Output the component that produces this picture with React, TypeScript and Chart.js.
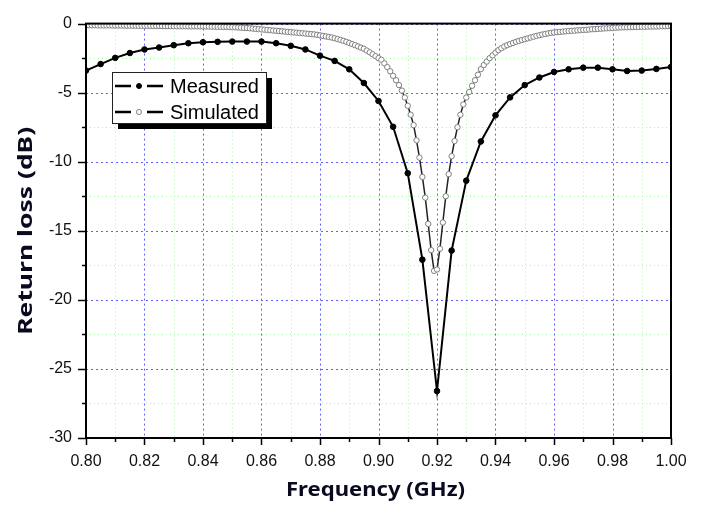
import React, { useEffect, useRef } from 'react';
import { Chart, registerables } from 'chart.js';

Chart.register(...registerables);

// ---- data ----
const FREQ_START = 0.8;
const MEASURED_STEP = 0.005;
const SIM_STEP = 0.001;

const seriesNames = ['Measured', 'Simulated'];

const measured = [
  -3.4, -2.93, -2.48, -2.13, -1.87, -1.73, -1.56, -1.42, -1.35, -1.32,
  -1.30, -1.30, -1.30, -1.42, -1.61, -1.87, -2.32, -2.70, -3.31, -4.30,
  -5.60, -7.47, -10.83, -17.09, -26.6, -16.43, -11.37, -8.53, -6.64, -5.34,
  -4.45, -3.90, -3.50, -3.31, -3.19, -3.19, -3.31, -3.43, -3.40, -3.28,
  -3.14,
];

const simulated = [
  -0.12, -0.12, -0.12, -0.12, -0.13, -0.13, -0.13, -0.13, -0.13, -0.14,
  -0.14, -0.14, -0.14, -0.14, -0.15, -0.15, -0.15, -0.15, -0.16, -0.16,
  -0.16, -0.16, -0.17, -0.17, -0.17, -0.17, -0.18, -0.18, -0.18, -0.18,
  -0.19, -0.19, -0.19, -0.19, -0.19, -0.20, -0.20, -0.20, -0.20, -0.20,
  -0.20, -0.21, -0.21, -0.22, -0.22, -0.23, -0.23, -0.24, -0.24, -0.25,
  -0.26, -0.27, -0.28, -0.29, -0.31, -0.32, -0.34, -0.36, -0.38, -0.40,
  -0.42, -0.44, -0.46, -0.48, -0.50, -0.52, -0.54, -0.56, -0.58, -0.60,
  -0.62, -0.64, -0.66, -0.68, -0.70, -0.72, -0.74, -0.76, -0.78, -0.81,
  -0.85, -0.89, -0.93, -0.97, -1.01, -1.06, -1.12, -1.18, -1.25, -1.32,
  -1.40, -1.48, -1.56, -1.65, -1.74,
  -1.82, -1.95, -2.08, -2.22, -2.36, -2.50, -2.62, -2.88, -3.15, -3.45,
  -3.78, -4.10, -4.45, -4.85, -5.35, -5.95, -6.60, -7.35, -8.45, -9.70,
  -11.1, -12.6, -14.5, -16.4, -17.9, -17.8, -16.3, -14.4, -12.5, -10.9,
  -9.6, -8.5,
  -7.5, -6.6, -5.85, -5.35, -4.95, -4.5, -4.1, -3.7, -3.3, -3.0,
  -2.75, -2.5, -2.3, -2.1, -1.92, -1.78, -1.66, -1.56, -1.48, -1.40,
  -1.32, -1.25, -1.19, -1.13, -1.07, -1.01, -0.95, -0.89, -0.84, -0.79,
  -0.75, -0.71, -0.67, -0.64, -0.62, -0.60, -0.58, -0.56, -0.54, -0.52,
  -0.51, -0.49, -0.48, -0.46, -0.45, -0.43, -0.41, -0.40, -0.38, -0.37,
  -0.35, -0.34, -0.33, -0.32, -0.30, -0.29, -0.28, -0.27, -0.27, -0.26,
  -0.25, -0.24, -0.24, -0.23, -0.23, -0.22, -0.22, -0.21, -0.21, -0.20,
  -0.19, -0.19, -0.18, -0.17,
];

const xTickLabels = ['0.80', '0.82', '0.84', '0.86', '0.88', '0.90', '0.92', '0.94', '0.96', '0.98', '1.00'];
const yTickLabels = ['0', '-5', '-10', '-15', '-20', '-25', '-30'];
const xTitle = 'Frequency (GHz)';
const yTitle = 'Return loss (dB)';

// ---- styles ----
const MAJOR_GRID = '#6060ff';
const MINOR_GRID = '#b0f0b0';
const TICK_FONT = '"Liberation Sans", Arial, sans-serif';
const TITLE_FONT = '"Noto Sans", "Open Sans", sans-serif';

const isMajorX = (v: number) => xTickLabels.includes(v.toFixed(2));
const isMajorY = (v: number) => yTickLabels.includes(String(Math.round(v * 10) / 10));

const gridPlugin = {
  id: 'customGrid',
  beforeDatasetsDraw(chart: any) {
    const { ctx, chartArea } = chart;
    const { left, right, top, bottom } = chartArea;
    const xs = chart.scales.x;
    const ys = chart.scales.y;
    ctx.save();
    ctx.lineWidth = 1;
    // minor first, major on top
    [false, true].forEach((major) => {
      ctx.strokeStyle = major ? MAJOR_GRID : MINOR_GRID;
      ctx.setLineDash(major ? [2, 3] : [1, 3]);
      ctx.beginPath();
      xs.ticks.forEach((t: any) => {
        if (isMajorX(t.value) !== major) return;
        const px = Math.round(xs.getPixelForValue(t.value)) + 0.5;
        ctx.moveTo(px, top);
        ctx.lineTo(px, bottom);
      });
      ys.ticks.forEach((t: any) => {
        if (isMajorY(t.value) !== major) return;
        const py = Math.round(ys.getPixelForValue(t.value)) + 0.5;
        ctx.moveTo(left, py);
        ctx.lineTo(right, py);
      });
      ctx.stroke();
    });
    ctx.restore();
  },
};

const decorPlugin = {
  id: 'decor',
  afterDraw(chart: any) {
    const { ctx, chartArea } = chart;
    const { left, right, top, bottom } = chartArea;
    const xs = chart.scales.x;
    const ys = chart.scales.y;
    ctx.save();
    // frame
    ctx.strokeStyle = '#000';
    ctx.lineWidth = 2;
    ctx.setLineDash([]);
    ctx.strokeRect(left, top, right - left, bottom - top);
    // tick marks
    ctx.lineWidth = 1.5;
    ctx.beginPath();
    xs.ticks.forEach((t: any) => {
      const px = Math.round(xs.getPixelForValue(t.value)) + 0.5;
      const len = isMajorX(t.value) ? 7 : 4;
      ctx.moveTo(px, bottom);
      ctx.lineTo(px, bottom + len);
    });
    ys.ticks.forEach((t: any) => {
      const py = Math.round(ys.getPixelForValue(t.value)) + 0.5;
      const len = isMajorY(t.value) ? 8 : 4;
      ctx.moveTo(left, py);
      ctx.lineTo(left - len, py);
    });
    ctx.stroke();

    // axis titles
    ctx.fillStyle = '#0a0a1e';
    ctx.textAlign = 'center';
    ctx.textBaseline = 'middle';
    ctx.save();
    ctx.font = `bold 20px ${TITLE_FONT}`;
    const wx = ctx.measureText(xTitle).width;
    ctx.translate((left + right) / 2 - 3, 490);
    ctx.scale(179 / wx, 1);
    ctx.fillText(xTitle, 0, 0);
    ctx.restore();
    ctx.save();
    ctx.translate(26, (top + bottom) / 2);
    ctx.rotate(-Math.PI / 2);
    ctx.font = `bold 20px ${TITLE_FONT}`;
    const w = ctx.measureText(yTitle).width;
    ctx.scale(208 / w, 1);
    ctx.fillText(yTitle, 0, 0);
    ctx.restore();

    // legend
    const bx = 112, by = 72, bw = 154, bh = 51;
    ctx.fillStyle = '#000';
    ctx.fillRect(bx + 6, by + 6, bw, bh);
    ctx.fillStyle = '#fff';
    ctx.fillRect(bx, by, bw, bh);
    ctx.strokeStyle = '#222';
    ctx.lineWidth = 1;
    ctx.strokeRect(bx + 0.5, by + 0.5, bw, bh);
    const rows = [by + 14, by + 40];
    chart.data.datasets.forEach((ds: any, i: number) => {
      const y = rows[i];
      ctx.strokeStyle = '#000';
      ctx.lineWidth = 2.5;
      ctx.beginPath();
      ctx.moveTo(bx + 3, y);
      ctx.lineTo(bx + 19, y);
      ctx.moveTo(bx + 35, y);
      ctx.lineTo(bx + 51, y);
      ctx.stroke();
      ctx.beginPath();
      ctx.arc(bx + 27, y, 2.5, 0, Math.PI * 2);
      ctx.fillStyle = ds.pointBackgroundColor;
      ctx.fill();
      ctx.lineWidth = 1;
      ctx.strokeStyle = ds.pointBorderColor;
      ctx.stroke();
      ctx.fillStyle = '#000';
      ctx.font = `20px ${TICK_FONT}`;
      ctx.textAlign = 'left';
      ctx.textBaseline = 'middle';
      ctx.fillText(ds.label, bx + 58, y + 1);
    });
    ctx.restore();
  },
};

export default function App() {
  const ref = useRef<HTMLCanvasElement | null>(null);
  useEffect(() => {
    if (!ref.current) return;
    const measuredPts = measured.map((v, i) => ({ x: FREQ_START + i * MEASURED_STEP, y: v }));
    const simPts = simulated.map((v, i) => ({ x: FREQ_START + i * SIM_STEP, y: v }));
    const chart = new Chart(ref.current, {
      type: 'line',
      data: {
        datasets: [
          {
            label: seriesNames[0],
            data: measuredPts,
            borderColor: '#000',
            borderWidth: 2,
            pointRadius: 2.8,
            pointBackgroundColor: '#000',
            pointBorderColor: '#000',
            pointBorderWidth: 1,
            tension: 0,
          },
          {
            label: seriesNames[1],
            data: simPts,
            borderColor: '#222',
            borderWidth: 1.5,
            pointRadius: 2.7,
            pointBackgroundColor: '#fff',
            pointBorderColor: '#808080',
            pointBorderWidth: 1,
            tension: 0,
          },
        ],
      },
      options: {
        responsive: false,
        animation: false,
        layout: { padding: { top: 14, right: 34, left: 0, bottom: 0 } },
        plugins: { legend: { display: false }, tooltip: { enabled: false } },
        scales: {
          x: {
            type: 'linear',
            min: 0.8,
            max: 1.0,
            afterFit: (s: any) => { s.height = 68; },
            grid: { display: false, drawTicks: false },
            border: { display: false },
            ticks: {
              stepSize: 0.01,
              autoSkip: false,
              maxRotation: 0,
              maxTicksLimit: 100,
              padding: 14,
              color: '#111',
              font: { family: TICK_FONT, size: 16 },
              callback: (v: any) => {
                const s = Number(v).toFixed(2);
                return xTickLabels.includes(s) ? s : '';
              },
            },
          },
          y: {
            type: 'linear',
            min: -30,
            max: 0,
            afterFit: (s: any) => { s.width = 86; },
            grid: { display: false, drawTicks: false },
            border: { display: false },
            ticks: {
              stepSize: 2.5,
              autoSkip: false,
              maxTicksLimit: 100,
              padding: 14,
              color: '#111',
              font: { family: TICK_FONT, size: 16 },
              callback: (v: any) => {
                const s = String(Math.round(Number(v) * 10) / 10);
                return yTickLabels.includes(s) ? s : '';
              },
            },
          },
        },
      },
      plugins: [gridPlugin, decorPlugin],
    });
    return () => chart.destroy();
  }, []);

  return (
    <div style={{ position: 'fixed', left: 0, top: 0, width: 705, height: 506, background: '#fff' }}>
      <canvas ref={ref} width={705} height={506} style={{ display: 'block' }} />
    </div>
  );
}
